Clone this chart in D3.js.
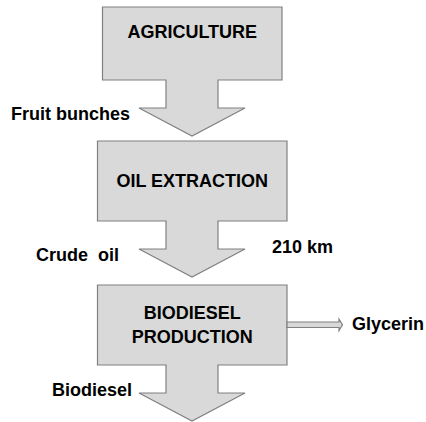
<!DOCTYPE html>
<html><head><meta charset="utf-8">
<script src="https://cdn.jsdelivr.net/npm/d3@7"></script>
<style>html,body{margin:0;padding:0;background:#fff}</style>
</head><body><svg id="c" width="426" height="422"></svg>
<script>
// Process steps (top to bottom)
const steps = [["AGRICULTURE"], ["OIL EXTRACTION"], ["BIODIESEL", "PRODUCTION"]];
// Flow labels under each step
const flows = ["Fruit bunches", "Crude  oil", "Biodiesel"];
const distanceLabel = "210 km";
const byProduct = "Glycerin";

const svg = d3.select("#c");
const fill = "#d9d9d9", stroke = "#808080";
const font = "'Liberation Sans', Arial, sans-serif";

// layout
const boxes = [
  {x0: 102.5, x1: 282, y0: 7, y1: 80, ty: [37.5]},
  {x0: 97.5, x1: 287, y0: 141, y1: 221, ty: [187]},
  {x0: 97.5, x1: 287, y0: 285, y1: 365, ty: [319, 343]}
];
const stem = [166, 218], head = [139, 245], tipX = 192;
const headStartDy = 28, tipDy = 56;
const flowLabelPos = [{x: 11, y: 120, a: "start"}, {x: 36, y: 261, a: "start"}, {x: 52, y: 396, a: "start"}];

const line = d3.line();
boxes.forEach((b, i) => {
  const hy = b.y1 + headStartDy, ty = b.y1 + tipDy;
  const pts = [[b.x0, b.y0], [b.x1, b.y0], [b.x1, b.y1], [stem[1], b.y1], [stem[1], hy], [head[1], hy],
    [tipX, ty], [head[0], hy], [stem[0], hy], [stem[0], b.y1], [b.x0, b.y1]];
  svg.append("path").attr("d", line(pts) + "Z").attr("fill", fill).attr("stroke", stroke).attr("stroke-width", 1.2);
  steps[i].forEach((t, j) => {
    svg.append("text").attr("x", (b.x0 + b.x1) / 2).attr("y", b.ty[j]).attr("text-anchor", "middle")
      .attr("font-family", font).attr("font-weight", "bold").attr("font-size", 18).attr("fill", "#000").text(t);
  });
  const p = flowLabelPos[i];
  svg.append("text").attr("x", p.x).attr("y", p.y).attr("text-anchor", p.a).attr("xml:space", "preserve")
    .style("white-space", "pre")
    .attr("font-family", font).attr("font-weight", "bold").attr("font-size", 18).attr("fill", "#000").text(flows[i]);
});

svg.append("text").attr("x", 272).attr("y", 253).attr("font-family", font).attr("font-weight", "bold")
  .attr("font-size", 18).attr("fill", "#000").text(distanceLabel);

// glycerin arrow
const b3 = boxes[2];
const ga = [[b3.x1, 322], [339, 322], [339, 319], [342.5, 324.7], [339, 330.5], [339, 327.5], [b3.x1, 327.5]];
svg.append("path").attr("d", line(ga) + "Z").attr("fill", fill).attr("stroke", stroke).attr("stroke-width", 1.2);
svg.append("text").attr("x", 352).attr("y", 330).attr("font-family", font).attr("font-weight", "bold")
  .attr("font-size", 18).attr("fill", "#000").text(byProduct);
</script></body></html>
